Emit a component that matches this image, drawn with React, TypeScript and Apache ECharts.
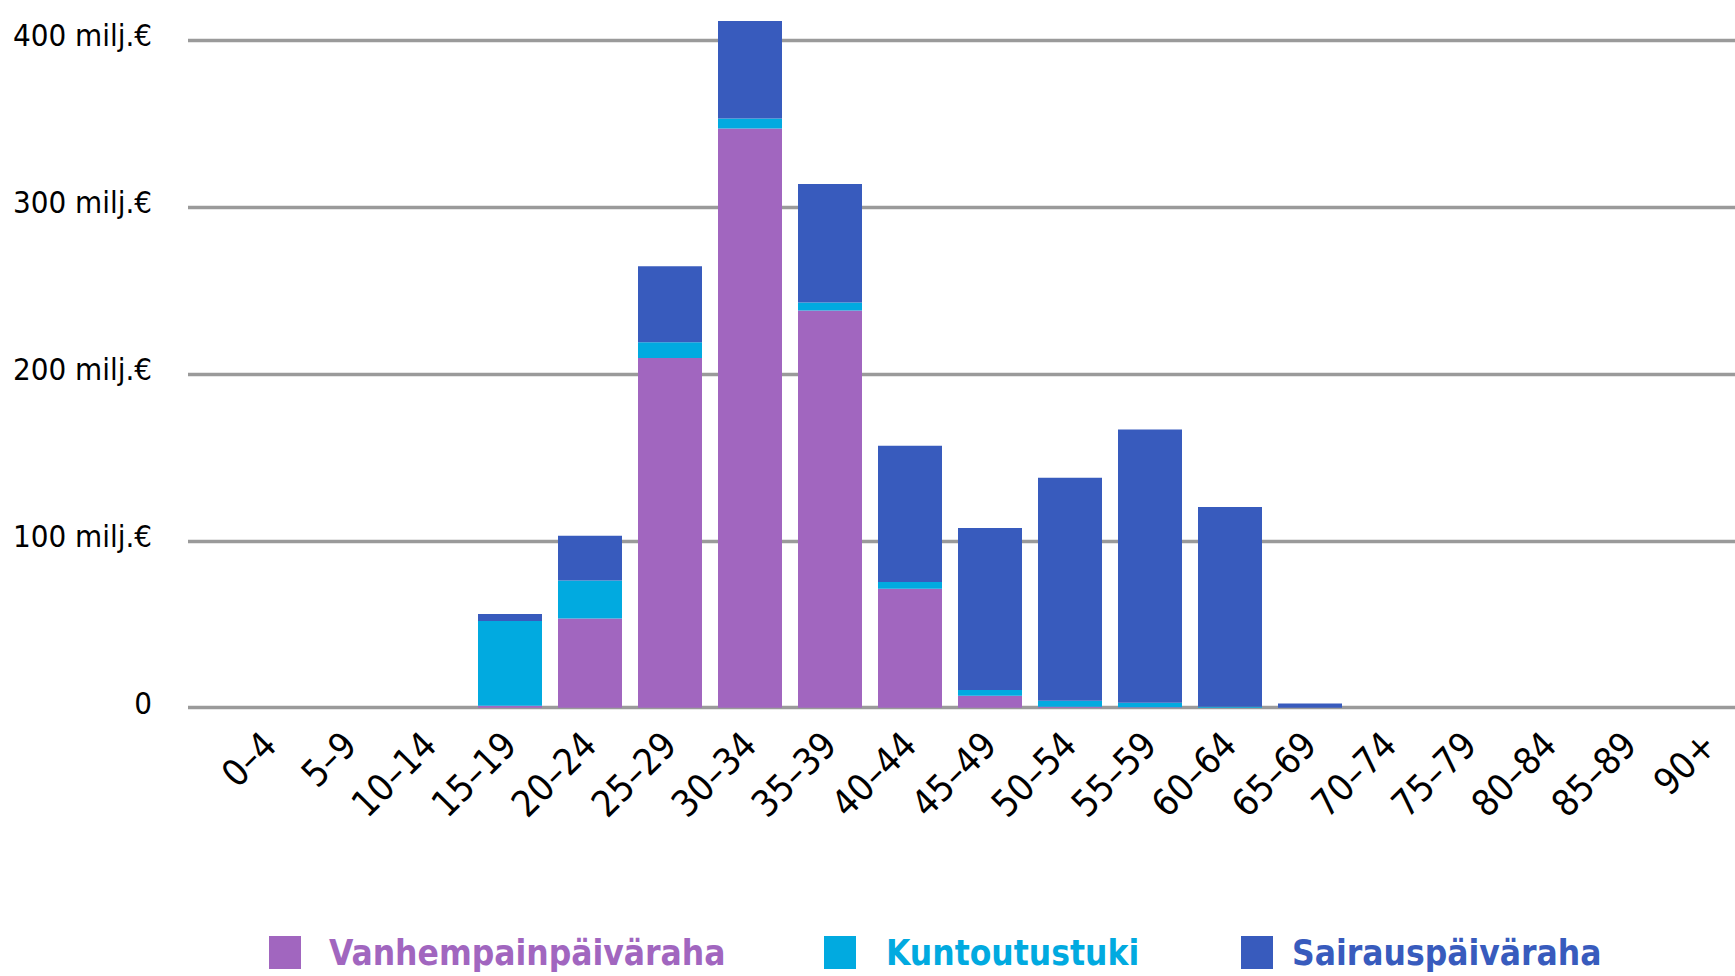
import React, { useEffect, useRef } from 'react';
import * as echarts from 'echarts';

const FONT = "'DejaVu Sans Condensed', 'Liberation Sans Narrow', 'Liberation Sans', sans-serif";

const categories = ['0–4', '5–9', '10–14', '15–19', '20–24', '25–29', '30–34', '35–39', '40–44', '45–49', '50–54', '55–59', '60–64', '65–69', '70–74', '75–79', '80–84', '85–89', '90+'];
const seriesNames = ['Vanhempainpäiväraha', 'Kuntoutustuki', 'Sairauspäiväraha'];
const vanhempainpaivaraha = [0, 0, 0, 1.2, 53.5, 209.5, 347, 238, 71.3, 7.2, 0.5, 0.3, 0, 0, 0, 0, 0, 0, 0];
const kuntoutustuki = [0, 0, 0, 50.8, 22.7, 9.4, 6, 4.8, 4, 3.4, 3.6, 2.6, 0.6, 0, 0, 0, 0, 0, 0];
const sairauspaivaraha = [0, 0, 0, 4.2, 26.8, 45.5, 58.4, 71, 81.6, 97, 133.6, 163.8, 119.6, 2.5, 0, 0, 0, 0, 0];
const yTicks = [0, 100, 200, 300, 400];
const yTickLabels = ['0', '100 milj.€', '200 milj.€', '300 milj.€', '400 milj.€'];

const COLORS = ['#A166BF', '#01AAE0', '#385BBD'];
const LEGEND_LEFT = [269, 824, 1241];
const LEGEND_TEXT_GAP = [23, 25, 14];

export default function App() {
  const ref = useRef<HTMLDivElement>(null);
  useEffect(() => {
    const chart = echarts.init(ref.current!, null, { renderer: 'svg' });
    const values = [vanhempainpaivaraha, kuntoutustuki, sairauspaivaraha];
    const top = 6.6;
    const bottom = 268.3;
    chart.setOption({
      animation: false,
      backgroundColor: '#ffffff',
      textStyle: { fontFamily: FONT },
      grid: [
        { left: 230, width: 1520, top, bottom, outerBoundsMode: 'none', containLabel: false },
        { left: 188, right: 0, top, bottom, outerBoundsMode: 'none', containLabel: false },
      ],
      xAxis: [
        {
          type: 'category',
          gridIndex: 0,
          data: categories,
          axisTick: { show: false },
          axisLine: { show: false },
          axisLabel: {
            interval: 0,
            rotate: 45,
            fontSize: 37,
            color: '#000',
            margin: 31,
            verticalAlign: 'middle',
            fontFamily: FONT,
          },
        },
        { type: 'value', gridIndex: 1, show: false, min: 0, max: 1 },
      ],
      yAxis: [
        { type: 'value', gridIndex: 0, min: 0, max: 420, show: false },
        {
          type: 'value',
          gridIndex: 1,
          min: 0,
          max: 420,
          interval: 100,
          axisLine: { show: false },
          axisTick: { show: false },
          splitLine: { show: true, showMaxLine: false, lineStyle: { color: '#9a9a9a', width: 3.4 } },
          axisLabel: {
            showMaxLabel: false,
            margin: 36,
            fontSize: 31,
            color: '#000',
            fontFamily: FONT,
            formatter: (v: number) => {
              const i = yTicks.indexOf(v);
              return i >= 0 ? '{t|' + yTickLabels[i] + '}' : '';
            },
            rich: {
              t: { fontSize: 31, color: '#000', fontFamily: FONT, padding: [0, 0, 10, 0] },
            },
          },
        },
      ],
      legend: seriesNames.map((n, i) => ({
        left: LEGEND_LEFT[i],
        top: 935,
        padding: 0,
        itemWidth: 32,
        itemHeight: 33,
        icon: 'rect',
        textStyle: {
          fontSize: 35,
          lineHeight: 33,
          fontWeight: 'bold',
          fontFamily: FONT,
          color: COLORS[i],
          padding: [0, 0, 0, LEGEND_TEXT_GAP[i]],
        },
        data: [n],
      })),
      series: seriesNames.map((n, i) => ({
        name: n,
        type: 'bar',
        stack: 'total',
        xAxisIndex: 0,
        yAxisIndex: 0,
        barCategoryGap: '20%',
        itemStyle: { color: COLORS[i] },
        data: values[i],
      })),
    });
    return () => chart.dispose();
  }, []);
  return (
    <div
      ref={ref}
      style={{ position: 'absolute', left: 0, top: 0, width: 1735, height: 976, background: '#fff' }}
    />
  );
}
